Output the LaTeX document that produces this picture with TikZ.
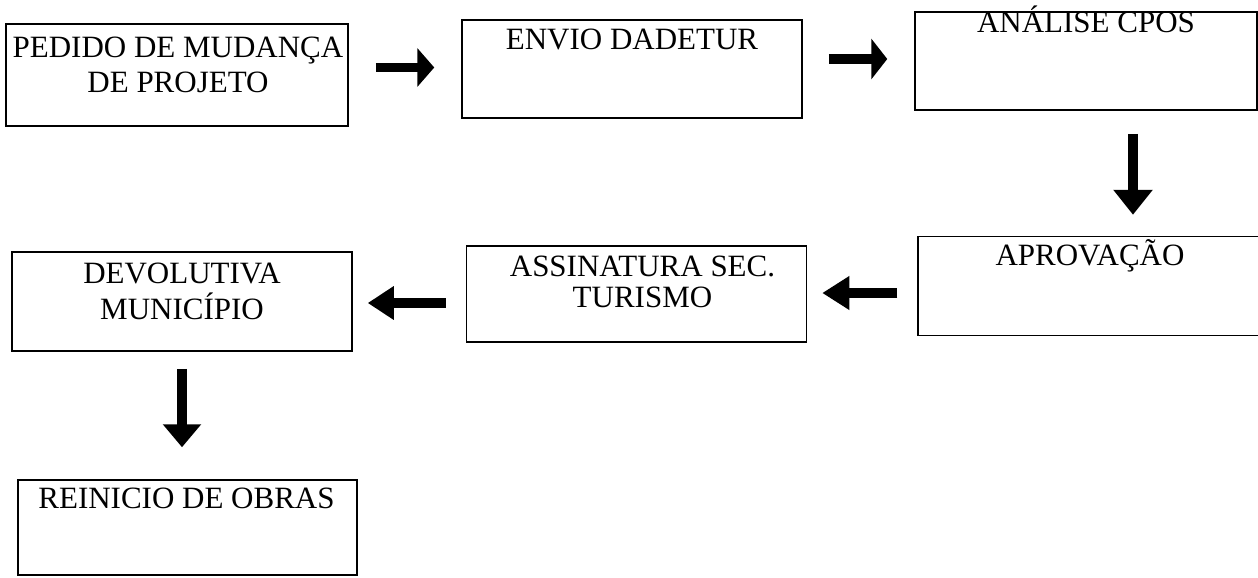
\documentclass[tikz,border=0pt]{standalone}
\usepackage{fontspec}
\setmainfont{Liberation Serif}
\usetikzlibrary{arrows.meta}
\begin{document}
\begin{tikzpicture}[x=0.5pt,y=-0.5pt,
  box/.style={draw=black, line width=0.75pt, rectangle, inner sep=0pt},
  txt/.style={anchor=base, align=center, inner sep=0pt,
    font=\fontsize{15.5pt}{17.5pt}\selectfont},
  blockarrow/.style={line width=4.6pt, draw=black,
    -{Triangle[length=#1]}},
]
\useasboundingbox (0,0) rectangle (1258,578);

% boxes
\node[box, minimum width=171pt, minimum height=51pt]   (b1) at (177,75)    {};
\node[box, minimum width=170pt, minimum height=49pt]   (b2) at (632,69)    {};
\node[box, minimum width=171pt, minimum height=49pt]   (b3) at (1086,61)   {};
\node[box, minimum width=172pt, minimum height=49.5pt] (b4) at (1090,286) {};
\node[box, minimum width=170pt, minimum height=48pt]   (b5) at (636.5,294)   {};
\node[box, minimum width=170pt, minimum height=49.5pt] (b6) at (182,301.5) {};
\node[box, minimum width=169.5pt, minimum height=47.5pt] (b7) at (187.5,527.5) {};

% texts (base anchor of a multi-line node = baseline of its last line)
\node[txt] (t1) at ([xshift=0.5pt,yshift=-34.5pt]b1.north) {PEDIDO DE MUDANÇA\\DE PROJETO};
\node[txt] (t2) at ([yshift=-15pt]b2.north) {ENVIO DADETUR};
\node[txt] (t3) at ([yshift=-10.5pt]b3.north) {ANÁLISE CPOS};
\node[txt] (t4) at ([yshift=-15pt]b4.north) {APROVAÇÃO};
\node[txt, font=\fontsize{15.5pt}{15.5pt}\selectfont] (t5) at ([xshift=3pt,yshift=-31pt]b5.north) {ASSINATURA SEC.\\TURISMO};
\node[txt, font=\fontsize{15.5pt}{18pt}\selectfont] (t6) at ([yshift=-34pt]b6.north) {DEVOLUTIVA\\MUNICÍPIO};
\node[txt] (t7) at ([xshift=-0.5pt,yshift=-14.5pt]b7.north) {REINICIO DE OBRAS};

% arrows
\draw[blockarrow={8.5pt, width=19pt}, shorten <=13.5pt, shorten >=13.5pt]
  ([yshift=3.75pt]b1.east) -- ([yshift=3.75pt]b1.east -| b2.west);
\draw[blockarrow={8pt, width=20pt}, shorten <=13pt, shorten >=13.5pt]
  ([yshift=5pt]b2.east) -- ([yshift=5pt]b2.east -| b3.west);
\draw[blockarrow={12.5pt, width=19pt}, shorten <=11.5pt, shorten >=10.5pt]
  ([xshift=23.5pt]b3.south) -- ([xshift=23.5pt]b3.south |- b4.north);
\draw[blockarrow={13.5pt, width=16pt}, shorten <=10pt, shorten >=7.5pt]
  ([yshift=-3.5pt]b4.west) -- ([yshift=-3.5pt]b4.west -| b5.east);
\draw[blockarrow={13pt, width=16pt}, shorten <=10pt, shorten >=7.5pt]
  ([yshift=-4.5pt]b5.west) -- ([yshift=-4.5pt]b5.west -| b6.east);
\draw[blockarrow={11.5pt, width=18.5pt}, shorten <=8.5pt, shorten >=16pt]
  (b6.south) -- (b6.south |- b7.north);
\end{tikzpicture}
\end{document}
